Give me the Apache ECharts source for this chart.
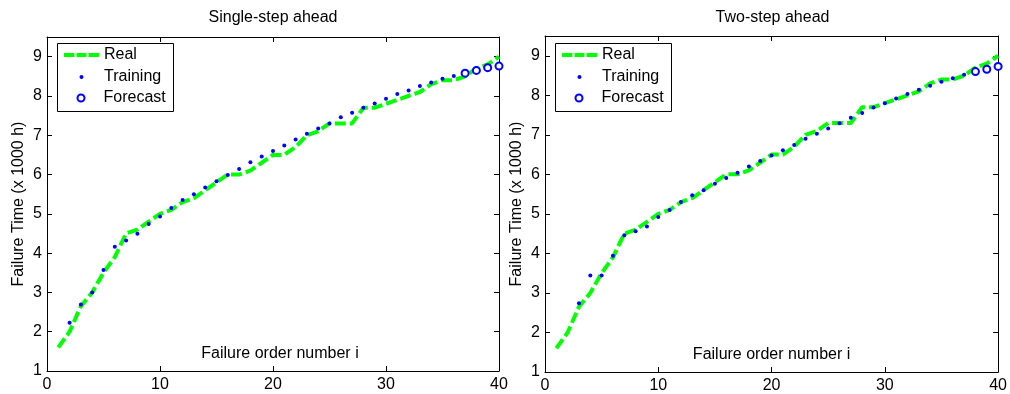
<!DOCTYPE html>
<html>
<head>
<meta charset="utf-8">
<script src="https://cdn.jsdelivr.net/npm/echarts@6.0.0/dist/echarts.min.js"></script>
<style>
  html, body { margin: 0; padding: 0; background: #fff; }
  #chart { width: 1010px; height: 394px; }
</style>
</head>
<body>
<div id="chart"></div>
<script>
// failure order number i = 1..40
const realTime = [1.6, 2.0, 2.65, 3.0, 3.5, 3.9, 4.5, 4.6, 4.8, 5.0,
  5.1, 5.3, 5.4, 5.6, 5.8, 6.0, 6.0, 6.1, 6.3, 6.5,
  6.5, 6.7, 7.0, 7.1, 7.3, 7.3, 7.3, 7.7, 7.7, 7.8,
  7.9, 8.0, 8.1, 8.3, 8.4, 8.4, 8.5, 8.7, 8.8, 9.0];

// single-step ahead: training i = 2..36, forecast i = 37..40
const singleTrainStart = 2;
const singleTrain = [2.23, 2.69, 3.0, 3.57, 4.16, 4.32, 4.49, 4.74, 4.93, 5.15,
  5.35, 5.5, 5.67, 5.83, 5.99, 6.14, 6.31, 6.46, 6.6, 6.74,
  6.89, 7.04, 7.17, 7.3, 7.46, 7.57, 7.7, 7.81, 7.93, 8.05,
  8.14, 8.25, 8.34, 8.44, 8.51];
const singleForecastStart = 37;
const singleForecast = [8.58, 8.65, 8.72, 8.76];

// two-step ahead: training i = 3..37, forecast i = 38..40
const twoTrainStart = 3;
const twoTrain = [2.74, 3.44, 3.44, 3.94, 4.46, 4.56, 4.68, 4.92, 5.1, 5.3,
  5.47, 5.6, 5.76, 5.91, 6.04, 6.2, 6.34, 6.48, 6.61, 6.74,
  6.9, 7.03, 7.16, 7.29, 7.43, 7.55, 7.69, 7.8, 7.92, 8.03,
  8.14, 8.24, 8.34, 8.43, 8.52];
const twoForecastStart = 38;
const twoForecast = [8.6, 8.66, 8.73];

const panelTitles = ["Single-step ahead", "Two-step ahead"];
const xTicks = [0, 10, 20, 30, 40];
const yTicks = [1, 2, 3, 4, 5, 6, 7, 8, 9];

const fontFamily = "'Liberation Sans', Arial, sans-serif";
const ink = "#000";
const green = "#00ff00";
const blue = "#0000ff";
const dash = [11, 4];
// three dashes, 35 x 4, for the "Real" legend entry
const dashIcon = "path://M0,0h10.5v4h-10.5zM12.5,0h10v4h-10zM24.5,0h10.5v4h-10.5z";

function pairs(start, values) {
  return values.map((v, k) => [start + k, v]);
}

const grids = [
  { left: 47, top: 37, width: 452, height: 334 },
  { left: 545, top: 36, width: 455, height: 336 }
];

const xAxes = [];
const yAxes = [];
const series = [];
const legends = [];
const graphics = [];
const titles = [];

const panels = [
  { train: pairs(singleTrainStart, singleTrain), forecast: pairs(singleForecastStart, singleForecast), nameShift: 14 },
  { train: pairs(twoTrainStart, twoTrain), forecast: pairs(twoForecastStart, twoForecast), nameShift: 0 }
];

panels.forEach((panel, g) => {
  const grid = grids[g];
  const tick = { show: true, inside: true, length: 5, lineStyle: { color: ink, width: 1 } };
  const line = { show: true, onZero: false, lineStyle: { color: ink, width: 1 } };
  const label = { color: ink, fontSize: 16, fontFamily, showMaxLabel: true };

  xAxes.push({
    gridIndex: g, type: "value", min: xTicks[0], max: xTicks[xTicks.length - 1], interval: 10,
    axisLine: line, axisTick: tick, splitLine: { show: false },
    axisLabel: { ...label, margin: 6 },
    name: "Failure order number i", nameLocation: "middle", nameGap: -25,
    nameTextStyle: { color: ink, fontSize: 16, fontFamily, padding: [0, 0, 0, panel.nameShift] }
  });
  xAxes.push({
    gridIndex: g, type: "value", position: "top", min: 0, max: 40, interval: 10,
    axisLine: line, axisTick: tick, axisLabel: { show: false }, splitLine: { show: false }
  });
  yAxes.push({
    gridIndex: g, type: "value", min: yTicks[0], max: 9.5, interval: 1,
    axisLine: line, axisTick: tick, splitLine: { show: false },
    axisLabel: { ...label, margin: 5, showMaxLabel: false,
      formatter: (v) => (Number.isInteger(v) ? String(v) : "") },
    name: "Failure Time (x 1000 h)", nameLocation: "middle", nameGap: 20,
    nameTextStyle: { color: ink, fontSize: 16, fontFamily }
  });
  yAxes.push({
    gridIndex: g, type: "value", position: "right", min: 1, max: 9.5, interval: 1,
    axisLine: line, axisTick: tick, axisLabel: { show: false }, splitLine: { show: false }
  });

  series.push({
    name: "Real", type: "line", xAxisIndex: g * 2, yAxisIndex: g * 2,
    data: realTime.map((v, k) => [k + 1, v]),
    symbol: "none", showSymbol: false, z: 2,
    lineStyle: { color: green, width: 4, type: dash },
    itemStyle: { color: green }
  });
  series.push({
    name: "Training", type: "scatter", xAxisIndex: g * 2, yAxisIndex: g * 2,
    data: panel.train, symbol: "circle", symbolSize: 4, z: 3,
    itemStyle: { color: blue, opacity: 1 }
  });
  series.push({
    name: "Forecast", type: "scatter", xAxisIndex: g * 2, yAxisIndex: g * 2,
    data: panel.forecast, symbol: "emptyCircle", symbolSize: 7, z: 4,
    itemStyle: { color: blue, borderColor: blue, borderWidth: 3, opacity: 1 }
  });

  const boxX = grid.left + 10;
  const iconX = boxX + 7;
  // legend boxes are aligned on their drawn extent, so small icons need a shift
  const rows = [
    { name: "Real", cy: 55, h: 4, icon: dashIcon, shift: 0 },
    { name: "Training", cy: 77, h: 4, icon: "circle", shift: 15.5 },
    { name: "Forecast", cy: 98, h: 7, icon: null, shift: 12.5 }
  ];
  rows.forEach((r) => {
    const item = r.icon ? { name: r.name, icon: r.icon } : { name: r.name };
    legends.push({
      data: [item], orient: "vertical", left: iconX + r.shift, top: r.cy - 9,
      padding: 0, z: 10,
      itemWidth: 35, itemHeight: r.h, itemGap: 0, selectedMode: false,
      textStyle: { color: ink, fontSize: 16, fontFamily, lineHeight: 18 },
      itemStyle: r.name === "Forecast"
        ? { borderWidth: 3, opacity: 1 }
        : { opacity: 1, borderWidth: 0 }
    });
  });
  graphics.push({
    type: "rect", left: boxX, top: 43, z: 1, silent: true,
    shape: { width: 116, height: 68 },
    style: { fill: "#fff", stroke: ink, lineWidth: 1 }
  });

  titles.push({
    text: panelTitles[g], left: grid.left + grid.width / 2, top: 10, textAlign: "center", padding: 0,
    textStyle: { color: ink, fontSize: 16, fontWeight: "normal", fontFamily }
  });
});

const chart = echarts.init(document.getElementById("chart"), null, { renderer: "canvas" });
chart.setOption({
  animation: false,
  backgroundColor: "#fff",
  title: titles,
  grid: grids,
  xAxis: xAxes,
  yAxis: yAxes,
  legend: legends,
  graphic: graphics,
  series: series
});
</script>
</body>
</html>
